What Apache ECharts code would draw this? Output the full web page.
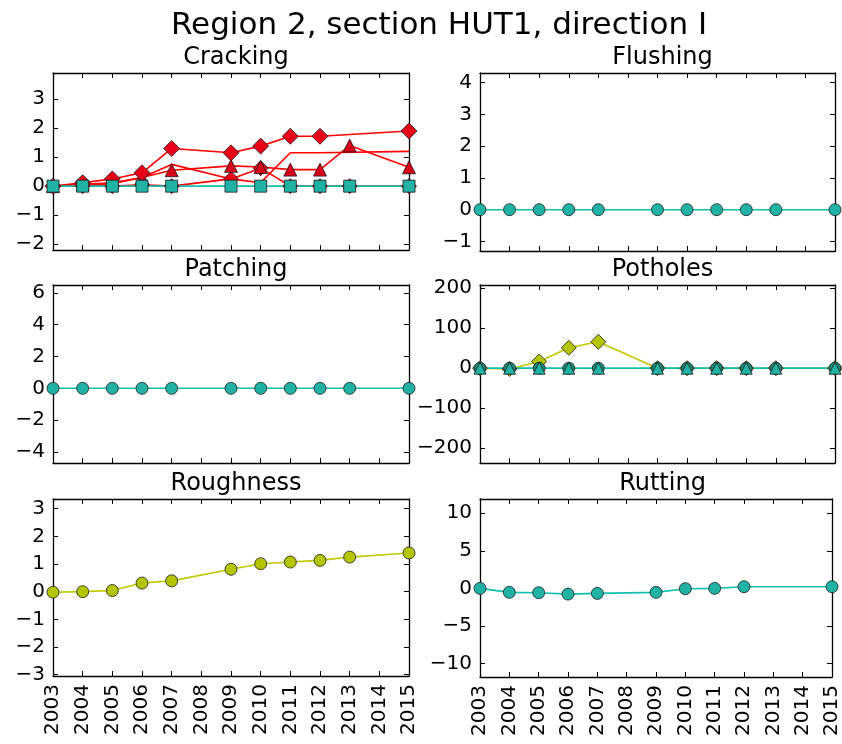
<!DOCTYPE html>
<html>
<head>
<meta charset="utf-8">
<script src="https://cdn.jsdelivr.net/npm/echarts@6/dist/echarts.min.js"></script>
<style>
  html, body { margin: 0; padding: 0; background: #fff; }
  #chart { width: 842px; height: 744px; }
</style>
</head>
<body>
<div id="chart"></div>
<script>
// survey years (2008 and 2014 missing)
const years = [2003, 2004, 2005, 2006, 2007, 2009, 2010, 2011, 2012, 2013, 2015];
const xTicks = [2003, 2004, 2005, 2006, 2007, 2008, 2009, 2010, 2011, 2012, 2013, 2014, 2015];

// Cracking
const crackDiamondA = [0, 0.12, 0.25, 0.46, 1.3, 1.15, 1.38, 1.72, 1.72, null, 1.9];
const crackTriangle = [0, 0.06, 0.12, 0.3, 0.55, 0.7, 0.66, 0.57, 0.57, 1.4, 0.65];
const crackDiamondB = [0, 0, 0, 0.05, 0, 0.25, 0.62, 0, 0, 0, 0];
const crackLine = [0, 0.03, 0.08, 0.3, 0.75, 0.25, 0.12, 1.15, 1.15, null, 1.2];
const crackSquare = [0, 0, 0, 0, 0, 0, 0, 0, 0, 0, 0];
// Flushing / Patching
const flushVals = [0, 0, 0, 0, 0, 0, 0, 0, 0, 0, 0];
const patchVals = [0, 0, 0, 0, 0, 0, 0, 0, 0, 0, 0];
// Potholes
const potDiamond = [0, -2, 17, 51, 66, 0, 0, 0, 0, 0, 0];
const potCircle = [0, 0, 0, 0, 0, 0, 0, 0, 0, 0, 0];
const potTriangle = [0, 0, 0, 0, 0, 0, 0, 0, 0, 0, 0];
// Roughness / Rutting
const roughVals = [-0.02, 0.0, 0.04, 0.31, 0.39, 0.81, 1.01, 1.07, 1.13, 1.25, 1.4];
const rutVals = [0, -0.53, -0.58, -0.76, -0.67, -0.53, -0.04, 0.0, 0.22, null, 0.22];

// y tick labels per panel
const crackTicks = [-2, -1, 0, 1, 2, 3];
const flushTicks = [-1, 0, 1, 2, 3, 4];
const patchTicks = [-4, -2, 0, 2, 4, 6];
const potTicks = [-200, -100, 0, 100, 200];
const roughTicks = [-3, -2, -1, 0, 1, 2, 3];
const rutTicks = [-10, -5, 0, 5, 10];

const FONT = 'DejaVu Sans';
const RED = '#ff0000', RED_M = '#e8001a';
const CYAN = '#12c0b0', CYAN_M = '#20b2a4';
const YEL = '#c2c800', YEL_M = '#b4c400';

const panels = [
  { name: 'Cracking', left: 53, top: 73, w: 356, h: 177, min: -2.2, max: 3.9, ticks: crackTicks, labels: false },
  { name: 'Flushing', left: 480, top: 73, w: 355, h: 178, min: -1.3, max: 4.3, ticks: flushTicks, labels: false },
  { name: 'Patching', left: 53, top: 285, w: 356, h: 178, min: -4.7, max: 6.5, ticks: patchTicks, labels: false },
  { name: 'Potholes', left: 480, top: 285, w: 355, h: 178, min: -237, max: 208, ticks: potTicks, labels: false },
  { name: 'Roughness', left: 53, top: 499, w: 356, h: 177, min: -3.05, max: 3.35, ticks: roughTicks, labels: true },
  { name: 'Rutting', left: 480, top: 499, w: 355, h: 178, min: -11.8, max: 11.9, ticks: rutTicks, labels: true }
];

const pairs = (vals) => years.map((y, i) => [y, vals[i]]).filter(p => p[1] !== null);
const minus = (v) => String(v).replace('-', '\u2212');

let grid = [], xAxis = [], yAxis = [], title = [], series = [];

title.push({
  text: 'Region 2, section HUT1, direction I',
  left: 434, top: 5, textAlign: 'center',
  textStyle: { fontFamily: FONT, fontSize: 31, fontWeight: 'normal', color: '#000' }
});

panels.forEach((p, i) => {
  grid.push({ left: p.left, top: p.top, width: p.w, height: p.h, show: false });
  title.push({
    text: p.name, left: p.left + p.w / 2, top: p.top - 32, textAlign: 'center',
    textStyle: { fontFamily: FONT, fontSize: 24, fontWeight: 'normal', color: '#000' }
  });
  const line = { show: true, onZero: false, lineStyle: { color: '#000', width: 1.3 } };
  const tick = (vals) => ({ show: true, inside: true, length: 5, customValues: vals, lineStyle: { color: '#000', width: 1 } });
  // bottom x
  xAxis.push({
    type: 'value', gridIndex: i, position: 'bottom', min: 2003, max: 2015,
    axisLine: line, axisTick: tick(xTicks), splitLine: { show: false },
    axisLabel: {
      show: p.labels, customValues: xTicks, rotate: 90, margin: 8,
      fontFamily: FONT, fontSize: 20, color: '#000', formatter: (v) => String(v)
    }
  });
  // top x (ticks only)
  xAxis.push({
    type: 'value', gridIndex: i, position: 'top', min: 2003, max: 2015,
    axisLine: line, axisTick: tick(xTicks), splitLine: { show: false },
    axisLabel: { show: false }
  });
  // left y
  yAxis.push({
    type: 'value', gridIndex: i, position: 'left', min: p.min, max: p.max,
    axisLine: line, axisTick: tick(p.ticks), splitLine: { show: false },
    axisLabel: {
      customValues: p.ticks, margin: 8, fontFamily: FONT, fontSize: 20, color: '#000',
      formatter: minus
    }
  });
  // right y (ticks only)
  yAxis.push({
    type: 'value', gridIndex: i, position: 'right', min: p.min, max: p.max,
    axisLine: line, axisTick: tick(p.ticks), splitLine: { show: false },
    axisLabel: { show: false }
  });
});

function addLine(panel, vals, symbol, size, lineColor, markColor) {
  series.push({
    type: 'line',
    xAxisIndex: panel * 2, yAxisIndex: panel * 2,
    data: pairs(vals),
    symbol: symbol, symbolSize: size, showSymbol: symbol !== 'none',
    animation: false, silent: true,
    lineStyle: { color: lineColor, width: 1.6 },
    itemStyle: { color: markColor, borderColor: '#1a1a1a', borderWidth: 0.8 }
  });
}

// Cracking
addLine(0, crackLine, 'none', 0, RED, RED_M);
addLine(0, crackDiamondB, 'diamond', 15, RED, RED_M);
addLine(0, crackTriangle, 'triangle', 13, RED, '#d8001a');
addLine(0, crackDiamondA, 'diamond', 16, RED, RED_M);
addLine(0, crackSquare, 'rect', 12, CYAN, CYAN_M);
// Flushing
addLine(1, flushVals, 'circle', 12, CYAN, CYAN_M);
// Patching
addLine(2, patchVals, 'circle', 12, CYAN, CYAN_M);
// Potholes
addLine(3, potDiamond, 'diamond', 15, YEL, YEL_M);
addLine(3, potCircle, 'circle', 12, CYAN, '#1a8a78');
addLine(3, potTriangle, 'triangle', 12, CYAN, CYAN_M);
// Roughness
addLine(4, roughVals, 'circle', 12, YEL, YEL_M);
// Rutting
addLine(5, rutVals, 'circle', 12, CYAN, CYAN_M);

const chart = echarts.init(document.getElementById('chart'), null, { renderer: 'canvas' });
chart.setOption({
  animation: false,
  backgroundColor: '#fff',
  title: title,
  grid: grid,
  xAxis: xAxis,
  yAxis: yAxis,
  series: series
});
</script>
</body>
</html>
